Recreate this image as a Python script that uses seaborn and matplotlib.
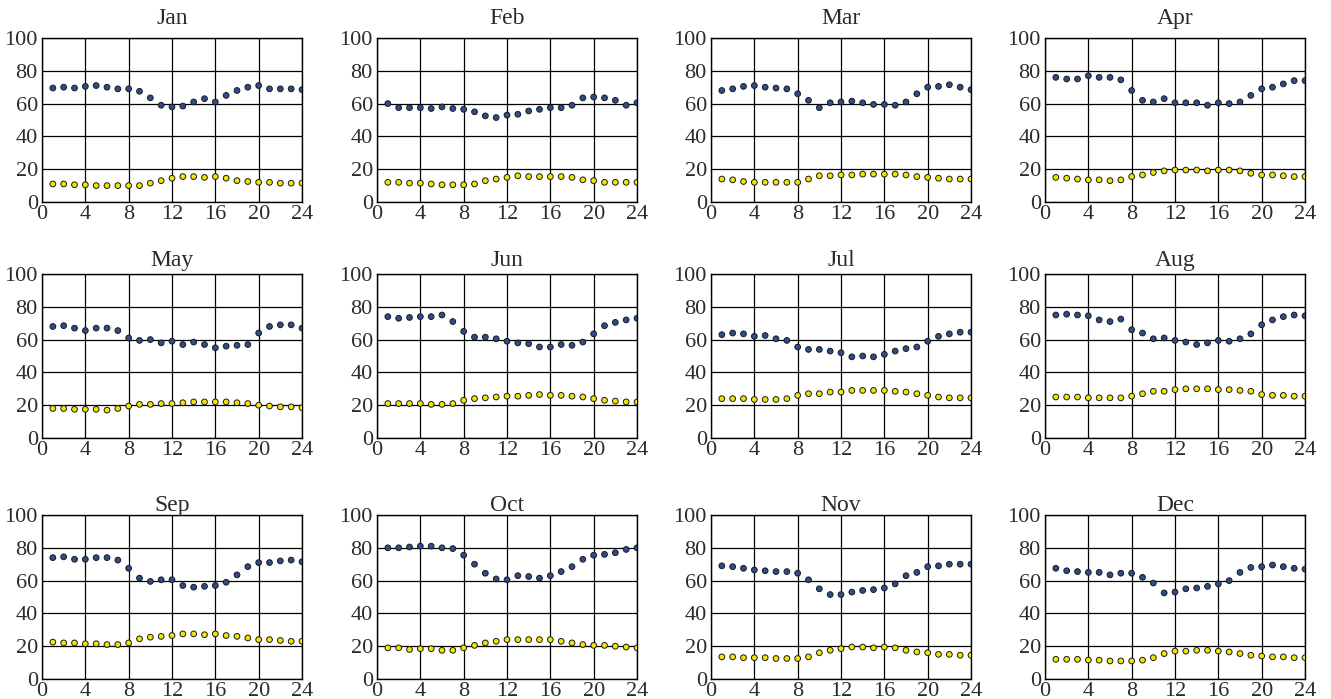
import numpy as np
import pandas as pd
import matplotlib
matplotlib.use("Agg")
import matplotlib.pyplot as plt
import seaborn as sns

months = ["Jan", "Feb", "Mar", "Apr", "May", "Jun",
          "Jul", "Aug", "Sep", "Oct", "Nov", "Dec"]
hours = list(range(1, 25))

# Hourly mean relative humidity (%)
humidity = {
    "Jan": [69.5, 70, 69.5, 70.5, 71, 70, 69, 69, 67.5, 63.5, 59, 58, 58.5, 61, 63, 61, 65, 68, 70, 71, 69, 69, 69, 68.5],
    "Feb": [60, 57.5, 57.5, 57.5, 57, 58, 57, 56.5, 55, 52.5, 51.5, 53, 53.5, 55.5, 56.5, 57.5, 57.5, 59, 63.5, 64, 63.5, 62, 59, 60.5],
    "Mar": [68, 69, 70.5, 71, 70, 69.5, 69, 66, 62, 57.5, 60.5, 61, 61.5, 60.5, 59.5, 59.5, 59, 61, 66, 70, 70.5, 71.5, 70, 68.5],
    "Apr": [76, 75, 75, 77, 76, 76, 74.5, 68, 62, 61, 63, 60.5, 60.5, 60.5, 59, 60.5, 60, 61, 65, 69, 70, 72, 74, 74],
    "May": [68, 68.5, 67, 65.5, 67, 67, 65.5, 61, 59.5, 60, 58, 59, 57, 58.5, 57, 55, 56, 56.5, 57, 64, 68, 69, 69, 67],
    "Jun": [74, 73, 73.5, 74, 74, 75, 71, 65, 61.5, 61.5, 60.5, 59, 58, 57.5, 55.5, 55.5, 57, 56.5, 58.5, 63.5, 68.5, 70.5, 72, 73],
    "Jul": [63, 64, 63.5, 62, 62.5, 60.5, 59.5, 55.5, 54, 54, 53, 52, 49.5, 50, 49.5, 51, 53, 54.5, 55.5, 59, 62, 63.5, 64.5, 64.5],
    "Aug": [75, 75.5, 75, 74.5, 72, 71, 72.5, 66, 64, 60.5, 61, 59.5, 58.5, 57, 58, 59.5, 59, 60.5, 63.5, 69, 72, 74, 75, 74.5],
    "Sep": [74, 74.5, 73, 73, 74, 74, 72.5, 67.5, 61.5, 59.5, 60.5, 60.5, 57, 56, 56.5, 57, 59, 63.5, 68.5, 71, 71, 72, 72.5, 71.5],
    "Oct": [80, 80, 80.5, 81, 81, 80, 79.5, 75.5, 70, 64.5, 61, 60.5, 63, 62.5, 61.5, 63, 65.5, 68.5, 73, 75.5, 76, 77, 79, 80],
    "Nov": [69, 68.5, 67.5, 66.5, 66, 65.5, 65.5, 64.5, 60.5, 55, 51.5, 51.5, 53, 54, 54.5, 55.5, 58, 63, 65, 68.5, 69, 70, 70, 70],
    "Dec": [67.5, 66, 65.5, 65, 65, 63.5, 64.5, 64.5, 62, 58.5, 52.5, 53, 55, 55.5, 56.5, 58, 60, 65, 68, 68.5, 69.5, 68.5, 67.5, 67],
}

# Hourly mean air temperature (deg C)
temperature = {
    "Jan": [11, 11, 10.5, 10.5, 10, 10, 10, 10, 10, 11.5, 13, 14.5, 15.5, 15.5, 15, 15.5, 14.5, 13, 12.5, 12, 12, 11.5, 11.5, 11.5],
    "Feb": [12, 12, 11.5, 11.5, 11, 10.5, 10.5, 10.5, 11, 13, 14, 15, 16, 15.5, 15.5, 15.5, 15.5, 15, 13.5, 13, 12, 12, 12, 12],
    "Mar": [14, 13.5, 12.5, 12, 12, 12, 12, 12, 14, 16, 16, 16.5, 16.5, 17, 17, 17, 17, 16.5, 15.5, 15, 14.5, 14, 14, 14],
    "Apr": [15, 14.5, 14, 13.5, 13.5, 13, 13.5, 15.5, 16.5, 18, 19, 19.5, 19.5, 19.5, 19, 19.5, 19.5, 19, 17.5, 16.5, 16.5, 16, 15.5, 15.5],
    "May": [18, 18, 17.5, 17.5, 17.5, 17, 18, 19.5, 20.5, 20.5, 21, 21, 21.5, 22, 22, 22, 22, 21.5, 21, 20, 19.5, 19, 19, 18.5],
    "Jun": [21, 21, 21, 21, 20.5, 20.5, 21, 23, 24, 24.5, 25, 25.5, 25.5, 26, 26.5, 26, 26, 25.5, 25, 24, 23, 22.5, 22, 22],
    "Jul": [24, 24, 24, 23.5, 23.5, 23.5, 24, 26, 27, 27, 28, 28, 29, 29, 29, 29, 28.5, 28, 27, 26, 25, 24.5, 24.5, 24.5],
    "Aug": [25, 25, 25, 24.5, 24.5, 24.5, 24.5, 25.5, 27, 28.5, 28.5, 29.5, 30, 30, 30, 29.5, 29.5, 29, 28.5, 26.5, 26, 26, 25.5, 25.5],
    "Sep": [22.5, 22, 22, 21.5, 21.5, 21, 21, 22, 24.5, 25.5, 26, 26.5, 27.5, 27.5, 27, 27.5, 26.5, 26, 25, 24, 24, 23.5, 23, 23],
    "Oct": [19, 19, 18, 18.5, 18.5, 17.5, 17.5, 19, 20.5, 22, 23, 24, 24, 24, 24, 24, 23, 22, 21, 20.5, 20.5, 20, 19.5, 19],
    "Nov": [13.5, 13.5, 13, 13, 13, 12.5, 12.5, 12.5, 13.5, 16, 17.5, 18.5, 19.5, 19.5, 19, 19.5, 19, 17.5, 16.5, 16, 15, 15, 14.5, 14.5],
    "Dec": [12, 12, 12, 11.5, 11.5, 11, 11, 11, 11.5, 13, 15.5, 17, 17, 17.5, 17.5, 17, 16.5, 15.5, 14.5, 14, 13.5, 13.5, 13, 13],
}

x_ticks = [0, 4, 8, 12, 16, 20, 24]
y_ticks = [0, 20, 40, 60, 80, 100]

rows = []
for m in months:
    for h, rh, t in zip(hours, humidity[m], temperature[m]):
        rows.append({"month": m, "hour": h, "value": rh, "series": "humidity"})
        rows.append({"month": m, "hour": h, "value": t, "series": "temperature"})
df = pd.DataFrame(rows)

sns.set_theme(style="white")
plt.rcParams["font.family"] = ["Liberation Serif", "DejaVu Serif"]

W, H = 1331, 699
fig = plt.figure(figsize=(W / 100, H / 100), dpi=100)

# panel layout in pixels
col_left = [42, 377, 711, 1045]
row_top = [38, 274, 515]
title_pad = [10, 6, 3]
ax_w, ax_h = 260, 164

palette = {"humidity": "#2E4C8C", "temperature": "#F2E600"}
text_color = "#2b2b2b"

for i, m in enumerate(months):
    r, c = divmod(i, 4)
    left = col_left[c] / W
    bottom = 1 - (row_top[r] + ax_h) / H
    ax = fig.add_axes([left, bottom, ax_w / W, ax_h / H])
    sub = df[df["month"] == m]
    sns.scatterplot(data=sub, x="hour", y="value", hue="series",
                    palette=palette, s=17, edgecolor="#1a1a1a",
                    linewidth=0.7, legend=False, ax=ax, zorder=3)
    ax.set_xlim(0, 24)
    ax.set_ylim(0, 100)
    ax.set_xticks(x_ticks)
    ax.set_yticks(y_ticks)
    ax.grid(True, color="black", linewidth=0.9)
    ax.set_axisbelow(True)
    for sp in ax.spines.values():
        sp.set_color("black")
        sp.set_linewidth(1.0)
    ax.tick_params(axis="both", length=0, labelsize=16, colors=text_color)
    ax.tick_params(axis="x", pad=2)
    ax.tick_params(axis="y", pad=3)
    for lbl in ax.get_yticklabels():
        lbl.set_verticalalignment("center_baseline")
    ax.set_xlabel("")
    ax.set_ylabel("")
    ax.set_title(m, fontsize=17, pad=title_pad[r], color=text_color)

fig.savefig("out.png", dpi=100)
